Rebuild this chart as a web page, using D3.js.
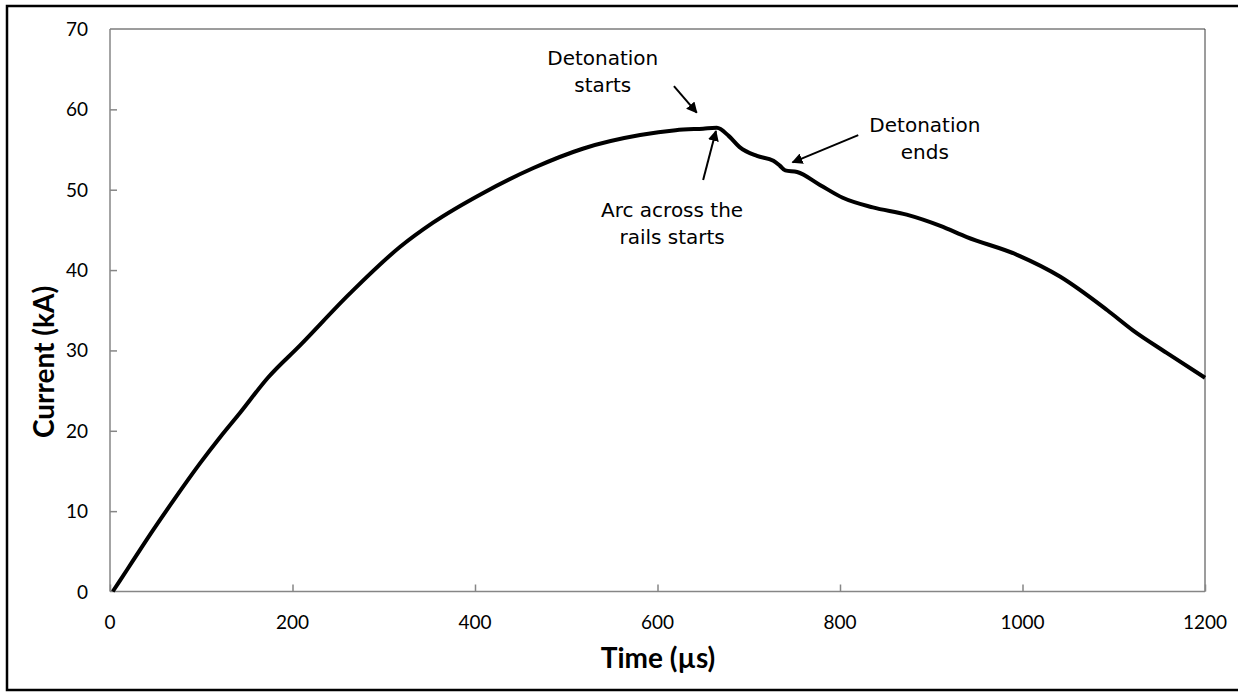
<!DOCTYPE html>
<html>
<head>
<meta charset="utf-8">
<script src="https://d3js.org/d3.v7.min.js"></script>
<style>
  body { margin: 0; background: #fff; }
  svg { display: block; }
</style>
</head>
<body>
<div id="chart"></div>
<script>
// data (time in µs, current in kA)
var time = [3, 10, 25, 47, 70, 99, 120, 143, 173, 208, 263, 318, 354, 409, 464, 518, 581, 620, 650, 665, 678, 690, 709, 727, 734, 740, 753, 778, 803, 836, 873, 910, 939, 994, 1041, 1093, 1121, 1158, 1200]
var current = [0, 1.2, 3.8, 7.6, 11.4, 16.0, 19.1, 22.3, 26.6, 30.6, 37.1, 42.9, 45.9, 49.6, 52.7, 55.1, 56.8, 57.4, 57.6, 57.7, 56.7, 55.3, 54.2, 53.6, 53.0, 52.4, 52.2, 50.6, 49.0, 47.8, 46.9, 45.5, 44.1, 41.9, 39.2, 35.0, 32.5, 29.7, 26.6]
var xTicks = [0, 200, 400, 600, 800, 1000, 1200]
var yTicks = [0, 10, 20, 30, 40, 50, 60, 70]

// notes: text lines at (t, I), arrow from -> to in data units
var notes = [
  { lines: ['Detonation', 'starts'], t: 540, i: 65.5, from: [618, 62.9], to: [643, 59.6] },
  { lines: ['Arc across the', 'rails starts'], t: 616, i: 46.6, from: [650, 51.2], to: [664, 57.3] },
  { lines: ['Detonation', 'ends'], t: 893, i: 57.2, from: [820, 56.8], to: [748, 53.4] }
]

var width = 1238
var height = 692
var margin = { top: 29, left: 110, right: 33, bottom: 100.5 }

var svg = d3.select('#chart').append('svg')
  .attr('width', width)
  .attr('height', height)

// outer frame (right edge runs off the picture)
svg.append('rect')
  .attr('x', 7).attr('y', 6)
  .attr('width', 1240).attr('height', 684)
  .attr('fill', 'none')
  .attr('stroke', '#000')
  .attr('stroke-width', 2.5)

var x = d3.scaleLinear().domain([0, 1200]).range([margin.left, width - margin.right])
var y = d3.scaleLinear().domain([0, 70]).range([height - margin.bottom, margin.top])

// plot area border, top and right
svg.append('path')
  .attr('d', 'M' + x(0) + ',' + y(70) + 'H' + x(1200) + 'V' + y(0))
  .attr('fill', 'none')
  .attr('stroke', '#3a3a3a')
  .attr('stroke-width', 1)

// axes, ticks point inward like Excel
var xAxis = svg.append('g')
  .attr('transform', 'translate(0,' + y(0) + ')')
  .call(d3.axisTop(x).tickValues(xTicks).tickSize(7).tickFormat(''))
var yAxis = svg.append('g')
  .attr('transform', 'translate(' + x(0) + ',0)')
  .call(d3.axisRight(y).tickValues(yTicks.slice(1, 7)).tickSize(7).tickFormat(''))
xAxis.select('.domain').attr('d', 'M' + x(0) + ',0H' + x(1200))
yAxis.select('.domain').attr('d', 'M0,' + y(0) + 'V' + y(70))
svg.selectAll('.domain, .tick line')
  .attr('stroke', '#868686')
  .attr('stroke-width', 1.5)

// tick labels
svg.append('g').selectAll('text')
  .data(xTicks)
  .enter()
  .append('text')
  .attr('x', function (d) { return x(d) })
  .attr('y', y(0) + 37)
  .attr('text-anchor', 'middle')
  .attr('font-family', 'Lato, sans-serif')
  .attr('font-size', '19px')
  .text(function (d) { return d })
svg.append('g').selectAll('text')
  .data(yTicks)
  .enter()
  .append('text')
  .attr('x', x(0) - 22)
  .attr('y', function (d) { return y(d) + 7 })
  .attr('text-anchor', 'end')
  .attr('font-family', 'Lato, sans-serif')
  .attr('font-size', '19px')
  .text(function (d) { return d })

// axis titles
svg.append('text')
  .attr('x', 658)
  .attr('y', 668)
  .attr('text-anchor', 'middle')
  .attr('font-family', 'Lato, sans-serif')
  .attr('font-weight', 'bold')
  .attr('font-size', '28px')
  .text('Time (µs)')
svg.append('text')
  .attr('transform', 'translate(54,362) rotate(-90)')
  .attr('text-anchor', 'middle')
  .attr('font-family', 'Lato, sans-serif')
  .attr('font-weight', 'bold')
  .attr('font-size', '28px')
  .text('Current (kA)')

// the current trace
var line = d3.line()
  .x(function (d, i) { return x(time[i]) })
  .y(function (d) { return y(d) })
  .curve(d3.curveMonotoneX)
svg.append('path')
  .datum(current)
  .attr('d', line)
  .attr('fill', 'none')
  .attr('stroke', '#000')
  .attr('stroke-width', 4)
  .attr('stroke-linejoin', 'round')

// annotations
svg.append('defs').append('marker')
  .attr('id', 'head')
  .attr('viewBox', '0 0 10 10')
  .attr('refX', 9).attr('refY', 5)
  .attr('markerWidth', 5.5).attr('markerHeight', 5.5)
  .attr('orient', 'auto')
  .append('path')
  .attr('d', 'M0,0L10,5L0,10z')
  .attr('fill', '#000')

notes.forEach(function (n) {
  var t = svg.append('text')
    .attr('x', x(n.t))
    .attr('y', y(n.i))
    .attr('text-anchor', 'middle')
    .attr('font-family', 'DejaVu Sans, sans-serif')
    .attr('font-size', '20px')
  n.lines.forEach(function (s, k) {
    t.append('tspan')
      .attr('x', x(n.t))
      .attr('dy', k === 0 ? 0 : 27)
      .text(s)
  })
  svg.append('line')
    .attr('x1', x(n.from[0])).attr('y1', y(n.from[1]))
    .attr('x2', x(n.to[0])).attr('y2', y(n.to[1]))
    .attr('stroke', '#000')
    .attr('stroke-width', 2)
    .attr('marker-end', 'url(#head)')
})
</script>
</body>
</html>
